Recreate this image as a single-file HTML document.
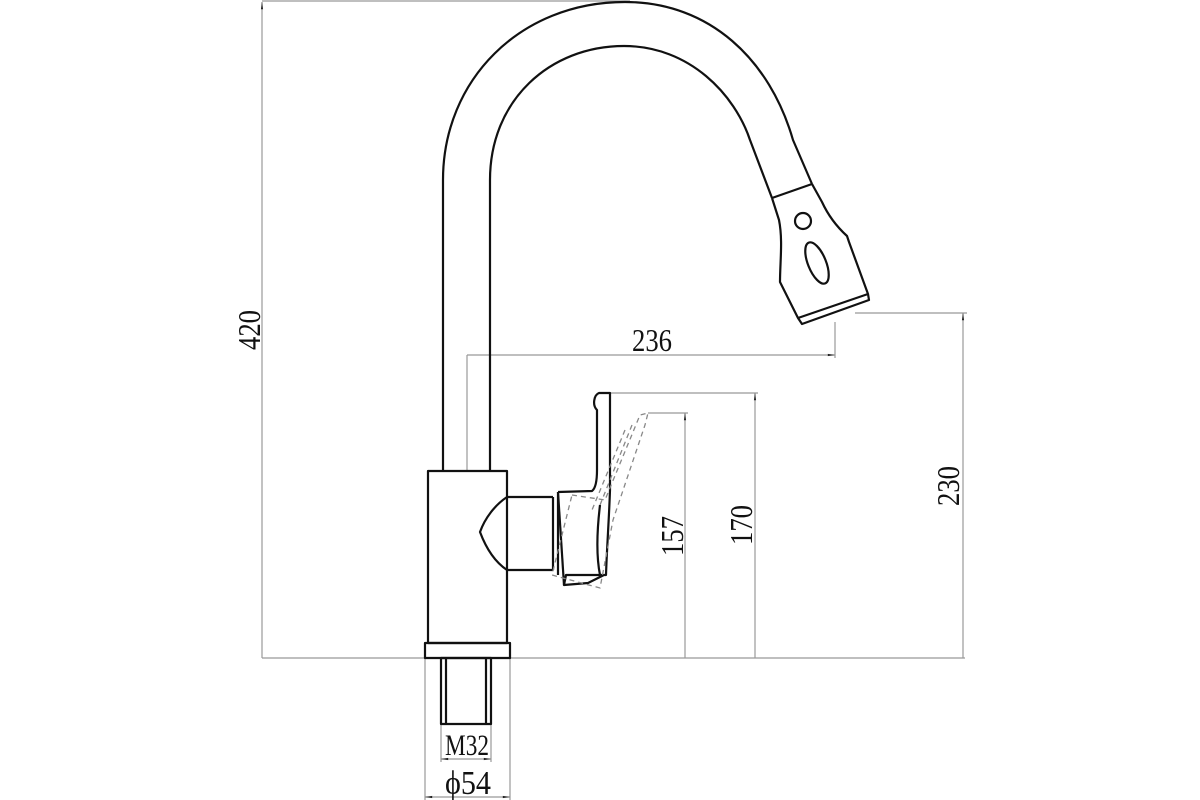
<!DOCTYPE html>
<html><head><meta charset="utf-8"><style>
html,body{margin:0;padding:0;background:#fff;}
svg{display:block;}
text{font-family:"Liberation Serif",serif;fill:#111;}
</style></head><body>
<svg width="1200" height="800" viewBox="0 0 1200 800" xmlns="http://www.w3.org/2000/svg">
<defs>
<marker id="ar" viewBox="0 0 10 10" refX="10" refY="5" markerWidth="8" markerHeight="6" orient="auto-start-reverse"><path d="M0,3.5 L10,5 L0,6.5 z" fill="#222"/></marker>
</defs>
<g stroke="#999" stroke-width="1.2" fill="none">
<line x1="262" y1="2" x2="262" y2="658" marker-start="url(#ar)"/>
<line x1="262" y1="1" x2="630" y2="1"/>
<line x1="262" y1="658" x2="965" y2="658"/>
<line x1="467" y1="355" x2="835" y2="355" marker-end="url(#ar)"/>
<line x1="467" y1="355" x2="467" y2="471"/>
<line x1="835" y1="322" x2="835" y2="358"/>
<line x1="648" y1="413" x2="688" y2="413"/>
<line x1="685" y1="413" x2="685" y2="658" marker-start="url(#ar)"/>
<line x1="610" y1="393" x2="758" y2="393"/>
<line x1="755" y1="393" x2="755" y2="658" marker-start="url(#ar)"/>
<line x1="855" y1="313" x2="967" y2="313"/>
<line x1="963" y1="313" x2="963" y2="658" marker-start="url(#ar)"/>
<line x1="425" y1="658" x2="425" y2="800"/>
<line x1="510" y1="658" x2="510" y2="800"/>
<line x1="441" y1="724" x2="441" y2="762"/>
<line x1="491" y1="724" x2="491" y2="762"/>
<line x1="441" y1="759" x2="491" y2="759" marker-start="url(#ar)" marker-end="url(#ar)"/>
<line x1="425" y1="797" x2="510" y2="797" marker-start="url(#ar)" marker-end="url(#ar)"/>
</g>
<text x="632" y="351" font-size="32" textLength="40" lengthAdjust="spacingAndGlyphs">236</text>
<text transform="translate(260,330) rotate(-90)" x="-20" y="0" font-size="32" textLength="40" lengthAdjust="spacingAndGlyphs">420</text>
<text transform="translate(683,536) rotate(-90)" x="-20" y="0" font-size="32" textLength="40" lengthAdjust="spacingAndGlyphs">157</text>
<text transform="translate(752,525) rotate(-90)" x="-20" y="0" font-size="32" textLength="40" lengthAdjust="spacingAndGlyphs">170</text>
<text transform="translate(959,486) rotate(-90)" x="-20" y="0" font-size="32" textLength="40" lengthAdjust="spacingAndGlyphs">230</text>
<text x="445" y="755" font-size="30" textLength="44" lengthAdjust="spacingAndGlyphs">M32</text>
<text x="445" y="794" font-size="34" textLength="46" lengthAdjust="spacingAndGlyphs">ϕ54</text>
<g stroke="#111" stroke-width="2.2" fill="none" stroke-linejoin="round">
<path d="M443,471 L443,180 C443,80 520,2 625,2 C710,2 770,60 793,140 L812,184"/>
<path d="M490,471 L490,180 C490,100 550,46 624,46 C690,46 735,95 750,140 L772,198"/>
<line x1="772" y1="198" x2="812" y2="184"/>
<path d="M772,198 L779,220 C783,240 780,262 780,282 L798,318 L802,324 L869,300 L868,294 L849,242 L847,236 C836,226 828,215 822,202 L812,184"/>
<line x1="798" y1="318" x2="868" y2="294"/>
<circle cx="803" cy="221" r="8"/>
<ellipse cx="817" cy="263" rx="9" ry="22" transform="rotate(-22 817 263)"/>
<rect x="428" y="471" width="79" height="172"/>
<rect x="425" y="643" width="85" height="15"/>
<rect x="441" y="658" width="50" height="66"/>
<line x1="446" y1="658" x2="446" y2="724"/>
<line x1="486" y1="658" x2="486" y2="724"/>
<path d="M507,497 C495,505 485,518 480,532 C486,548 495,562 507,570"/>
<line x1="507" y1="497" x2="553" y2="497"/>
<line x1="507" y1="570" x2="553" y2="570"/>
<line x1="553" y1="497" x2="553" y2="570"/>
<line x1="558" y1="492" x2="558" y2="575"/>
<path d="M558,492 L592,491 C596,488 597,480 597,470 L597,410 C592,405 594,395 599,393 L610,393 L610,490 C609,520 607,545 606,575 L566,575 L564,585 L588,583 L604,575"/>
<path d="M558,492 L564,585"/>
<path d="M600,505 C597,530 596,555 600,575"/>
</g>
<g stroke="#888" stroke-width="1.3" fill="none" stroke-dasharray="5,4">
<path d="M572,495 L605,500 L640,415 L648,413 L645,425 L613,520 L600,588 L552,575 Z"/>
<path d="M632,425 L600,505"/>
<path d="M625,430 L592,510"/>
</g>
</svg>
</body></html>
